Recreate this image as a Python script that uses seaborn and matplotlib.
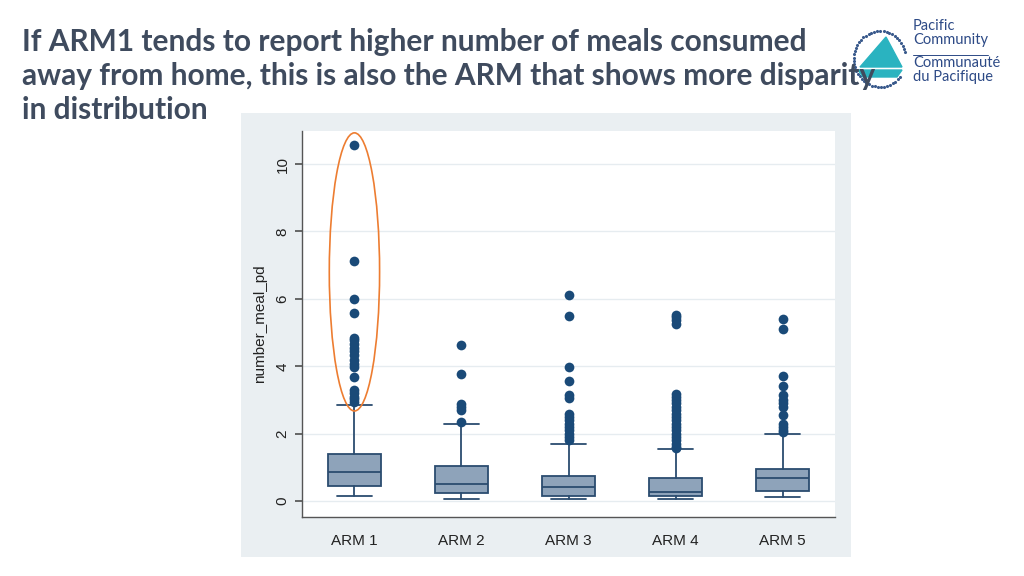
import numpy as np
import pandas as pd
import seaborn as sns
import matplotlib.pyplot as plt
from matplotlib.patches import Ellipse, Rectangle, Polygon

arms = ["ARM 1", "ARM 2", "ARM 3", "ARM 4", "ARM 5"]

# box statistics
whislo = [0.15, 0.06, 0.06, 0.06, 0.13]
q1 = [0.45, 0.24, 0.14, 0.14, 0.29]
med = [0.86, 0.50, 0.42, 0.28, 0.70]
q3 = [1.39, 1.04, 0.75, 0.68, 0.96]
whishi = [2.85, 2.28, 1.70, 1.55, 1.99]

# outside values per arm
out_arm1 = [10.55, 7.12, 6.0, 5.58, 4.85, 4.78, 4.65, 4.55, 4.45, 4.33, 4.2, 4.07,
            3.98, 3.68, 3.3, 3.2, 3.1, 3.02, 2.95]
out_arm2 = [4.63, 3.77, 2.88, 2.79, 2.7, 2.34]
out_arm3 = [6.12, 5.49, 3.99, 3.56, 3.15, 3.05, 2.6, 2.5, 2.4, 2.3, 2.2, 2.1,
            2.0, 1.9, 1.8]
out_arm4 = [5.52, 5.45, 5.38, 5.25, 3.19, 3.1, 3.0, 2.9, 2.8, 2.7, 2.6, 2.5, 2.4,
            2.3, 2.2, 2.1, 2.0, 1.9, 1.8, 1.7, 1.62, 1.57]
out_arm5 = [5.41, 5.11, 3.70, 3.41, 3.15, 3.0, 2.9, 2.8, 2.55, 2.28, 2.2, 2.1, 2.05]

title = ("If ARM1 tends to report higher number of meals consumed\n"
         "away from home, this is also the ARM that shows more disparity\n"
         "in distribution")

sns.set_theme(style="white")
plt.rcParams["font.family"] = ["Liberation Sans", "DejaVu Sans"]

fig = plt.figure(figsize=(10.24, 5.76), dpi=100)
fig.patch.set_facecolor("white")

# light panel behind the Stata graph
fig.patches.append(Rectangle((241 / 1024, 1 - 557 / 576), 610 / 1024, 444 / 576,
                             transform=fig.transFigure, facecolor="#eaeff2",
                             edgecolor="none", zorder=-5))

ax = fig.add_axes([302 / 1024, 1 - 517 / 576, 533 / 1024, 386 / 576])
ax.set_facecolor("white")

stats = []
for i in range(len(arms)):
    stats.append(dict(whislo=whislo[i], q1=q1[i], med=med[i], q3=q3[i],
                      whishi=whishi[i], fliers=[]))
edge = "#2b4c6f"
ax.bxp(stats, positions=range(len(arms)), widths=0.5, patch_artist=True,
       showfliers=False,
       boxprops=dict(facecolor="#8ea3ba", edgecolor=edge, linewidth=1.3),
       medianprops=dict(color=edge, linewidth=1.3),
       whiskerprops=dict(color=edge, linewidth=1.3),
       capprops=dict(color=edge, linewidth=1.3),
       capwidths=0.33)

outs = [out_arm1, out_arm2, out_arm3, out_arm4, out_arm5]
df = pd.DataFrame({"arm": [a for a, o in zip(arms, outs) for _ in o],
                   "value": [v for o in outs for v in o]})
sns.stripplot(data=df, x="arm", y="value", order=arms, jitter=False,
              color="#1a4a78", size=7, ax=ax, zorder=3)

ax.add_patch(Ellipse((0, 6.8), 0.47, 8.25, fill=False, edgecolor="#ed7d31",
                     linewidth=1.2, zorder=4))

ax.set_xlim(-0.49, 4.49)
ax.set_ylim(-0.47, 10.98)
ax.set_yticks([0, 2, 4, 6, 8, 10])
ax.set_xticks(range(len(arms)))
ax.set_xticklabels(arms)
ax.yaxis.grid(True, color="#e6ecf0", linewidth=1)
ax.set_axisbelow(True)
for s in ["top", "right"]:
    ax.spines[s].set_visible(False)
for s in ["left", "bottom"]:
    ax.spines[s].set_color("#555555")
    ax.spines[s].set_linewidth(1)
ax.tick_params(axis="y", left=True, length=5, color="#555555", labelsize=11,
               labelrotation=90, pad=4, labelcolor="#222222")
ax.tick_params(axis="x", bottom=False, labelsize=11, pad=6, labelcolor="#222222")
for lab in ax.get_yticklabels():
    lab.set_va("center")
ax.set_xlabel("")
ax.set_ylabel("number_meal_pd", fontsize=11, color="#222222", labelpad=6)

fig.text(22 / 1024, 1 - 28 / 576, title, fontsize=21.5, fontweight="bold",
         family="Lato", color="#3f4b5e", va="top", linespacing=1.26,
         zorder=5)

# logo, roughly
lx = fig.add_axes([850 / 1024, 1 - 97 / 576, 60 / 1024, 70 / 576])
lx.set_xlim(0, 60)
lx.set_ylim(0, 70)
lx.axis("off")
ang = np.linspace(0.25, 2 * np.pi - 0.7, 46)
lx.scatter(30 + 26 * np.cos(ang), 38 + 28 * np.sin(ang), s=1.5, color="#3a5a8c")
lx.add_patch(Polygon([[10, 30], [36, 60], [52, 30]], color="#2ab3c0"))
lx.add_patch(Polygon([[8, 27], [52, 27], [47, 20], [13, 20]], color="#2ab3c0"))
fig.text(913 / 1024, 1 - 33 / 576, "Pacific\nCommunity", fontsize=10.5,
         family="Lato", color="#2d4a86", va="center", linespacing=0.95)
fig.lines.append(plt.Line2D([913 / 1024, 988 / 1024], [1 - 55 / 576, 1 - 55 / 576],
                            transform=fig.transFigure, color="#2d4a86", lw=0.7))
fig.text(913 / 1024, 1 - 70 / 576, "Communauté\ndu Pacifique", fontsize=10.5,
         family="Lato", color="#2d4a86", va="center", linespacing=0.95)

fig.savefig("out.png", dpi=100)
